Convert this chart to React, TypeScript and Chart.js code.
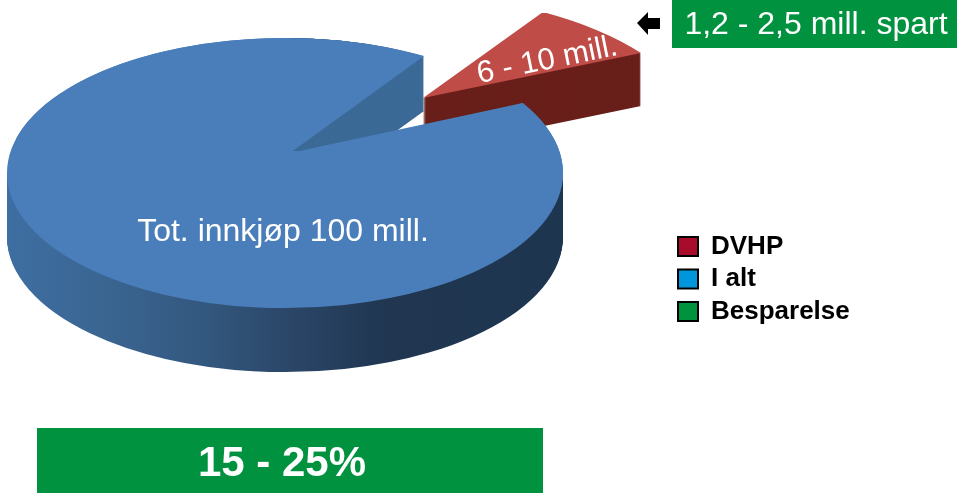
import { useEffect, useRef } from "react";
import { Chart, registerables } from "chart.js";

Chart.register(...registerables);

const categories = ["DVHP", "I alt", "Besparelse"];
const values = [8, 92, 0];
const legendColors = ["#A90B2B", "#0096DC", "#00923F"];
const sliceLabels = ["6 - 10 mill.", "Tot. innkjøp 100 mill."];
const savingLabel = "1,2 - 2,5 mill. spart";
const shareLabel = "15 - 25%";

const FONT = '"Liberation Sans", Arial, sans-serif';
const GREEN = "#00923F";
const CY = 173;
const SQUASH = 0.486;
const DEPTH = 64;
const WALL_DEPTH = 55;
const RED_DEPTH = 53;
const RED_APEX = [423, 98];
const RED_P1 = [543, 12];
const RED_P2 = [641, 53];
const BLUE_APEX = [290, 153];

function paint(arc: any, ctx: CanvasRenderingContext2D, color: any) {
  const saved = arc.options;
  arc.options = {
    backgroundColor: color,
    borderColor: color,
    borderWidth: 0,
    borderAlign: "center",
    borderRadius: 0,
    borderDash: [],
    offset: 0,
    spacing: 0,
    circular: true,
  };
  arc.draw(ctx);
  arc.options = saved;
}

// Linear map that sends the arc's rim ends (angles a1, a2) to two picture vectors
function solve(R: number, a1: number, a2: number, t1: number[], t2: number[]) {
  const px1 = Math.cos(a1) * R, py1 = Math.sin(a1) * R;
  const px2 = Math.cos(a2) * R, py2 = Math.sin(a2) * R;
  const D = px1 * py2 - py1 * px2;
  return [
    (t1[0] * py2 - py1 * t2[0]) / D,
    (t1[1] * py2 - py1 * t2[1]) / D,
    (px1 * t2[0] - t1[0] * px2) / D,
    (px1 * t2[1] - t1[1] * px2) / D,
  ];
}

const pie3d = {
  id: "pie3d",
  beforeDatasetsDraw(chart: any) {
    const ctx: CanvasRenderingContext2D = chart.ctx;
    const [red, blue] = chart.getDatasetMeta(0).data;

    // Exploded red slice
    const m = solve(
      red.outerRadius,
      red.startAngle,
      red.endAngle,
      [RED_P1[0] - RED_APEX[0], RED_P1[1] - RED_APEX[1]],
      [RED_P2[0] - RED_APEX[0], RED_P2[1] - RED_APEX[1]]
    );
    const place = (dy: number) => {
      ctx.translate(RED_APEX[0], RED_APEX[1] + dy);
      ctx.transform(m[0], m[1], m[2], m[3], 0, 0);
      ctx.translate(-red.x, -red.y);
    };
    for (let t = RED_DEPTH; t >= 1; t--) {
      ctx.save();
      place(t);
      paint(red, ctx, "#691F1A");
      ctx.restore();
    }
    ctx.save();
    place(0);
    paint(red, ctx, "#BF4C47");
    ctx.restore();

    // Blue body: outer wall
    const R = blue.outerRadius;
    const grad = ctx.createLinearGradient(8, 0, 563, 0);
    grad.addColorStop(0, "#3E6EA2");
    grad.addColorStop(0.18, "#3A6591");
    grad.addColorStop(0.35, "#33587F");
    grad.addColorStop(0.5, "#2B4769");
    grad.addColorStop(0.68, "#203651");
    grad.addColorStop(1, "#1E3550");
    const placeBlue = (dy: number) => {
      ctx.translate(blue.x, CY + dy);
      ctx.scale(1, SQUASH);
      ctx.translate(-blue.x, -blue.y);
    };
    ctx.save();
    ctx.beginPath();
    ctx.rect(0, CY, 963, 493);
    ctx.clip();
    for (let t = DEPTH; t >= 1; t--) {
      ctx.save();
      placeBlue(t);
      paint(blue, ctx, grad);
      ctx.restore();
    }
    ctx.restore();
    ctx.save();
    placeBlue(0);
    paint(blue, ctx, "#4A7EBA");
    ctx.restore();

    // Same slice again, with its tip where the perspective puts it: rim ends stay on the ellipse
    const rimX = (a: number) => blue.x + Math.cos(a) * R;
    const rimY = (a: number) => CY + Math.sin(a) * R * SQUASH;
    const a1 = red.startAngle;
    const a2 = red.endAngle;
    const n = solve(
      R,
      a1,
      a2,
      [rimX(a1) - BLUE_APEX[0], rimY(a1) - BLUE_APEX[1]],
      [rimX(a2) - BLUE_APEX[0], rimY(a2) - BLUE_APEX[1]]
    );
    const placeTip = (dy: number) => {
      ctx.translate(BLUE_APEX[0], BLUE_APEX[1] + dy);
      ctx.transform(n[0], n[1], n[2], n[3], 0, 0);
      ctx.translate(-blue.x, -blue.y);
    };
    ctx.save();
    ctx.beginPath();
    ctx.ellipse(blue.x, CY, R, R * SQUASH, 0, 0, Math.PI * 2);
    ctx.clip();
    ctx.beginPath();
    ctx.rect(BLUE_APEX[0], 0, rimX(a1) - BLUE_APEX[0], rimY(a1) + WALL_DEPTH + 40);
    ctx.clip();
    for (let t = WALL_DEPTH; t >= 1; t--) {
      ctx.save();
      placeTip(t);
      paint(blue, ctx, "#3C6A97");
      ctx.restore();
    }
    ctx.restore();
    ctx.save();
    ctx.beginPath();
    ctx.ellipse(blue.x, CY, R, R * SQUASH, 0, 0, Math.PI * 2);
    ctx.clip();
    placeTip(0);
    paint(blue, ctx, "#4A7EBA");
    ctx.restore();
    return false;
  },
  afterLayout(chart: any) {
    const lg = chart.legend;
    const h = lg.height;
    lg.left = 671.5;
    lg.right = 671.5 + lg.width;
    lg.top = 227;
    lg.bottom = 227 + h;
    lg.adjustHitBoxes();
  },
  afterDraw(chart: any) {
    const ctx: CanvasRenderingContext2D = chart.ctx;
    ctx.save();
    ctx.textBaseline = "alphabetic";
    ctx.fillStyle = "#FFFFFF";
    ctx.textAlign = "center";
    ctx.font = `32px ${FONT}`;
    ctx.fillText(sliceLabels[1], 283, 241);

    ctx.save();
    ctx.translate(549, 69);
    ctx.rotate((-11.5 * Math.PI) / 180);
    ctx.font = `31px ${FONT}`;
    ctx.fillText(sliceLabels[0], 0, 0);
    ctx.restore();

    // arrow
    ctx.fillStyle = "#000000";
    ctx.beginPath();
    ctx.moveTo(637, 23);
    ctx.lineTo(648, 12);
    ctx.lineTo(648, 18);
    ctx.lineTo(660, 18);
    ctx.lineTo(660, 29);
    ctx.lineTo(648, 29);
    ctx.lineTo(648, 35);
    ctx.closePath();
    ctx.fill();

    // banners
    ctx.fillStyle = GREEN;
    ctx.fillRect(672, 0, 285, 48);
    ctx.fillRect(37, 428, 506, 65);
    ctx.fillStyle = "#FFFFFF";
    ctx.font = `32px ${FONT}`;
    ctx.fillText(savingLabel, 816, 34);
    ctx.font = `bold 42px ${FONT}`;
    ctx.fillText(shareLabel, 282, 476);
    ctx.restore();
  },
};

export default function App() {
  const ref = useRef<HTMLCanvasElement>(null);
  useEffect(() => {
    const chart = new Chart(ref.current!, {
      type: "pie",
      data: {
        labels: categories,
        datasets: [{ data: values, backgroundColor: ["#BF4C47", "#4A7EBA", GREEN], borderWidth: 0 }],
      },
      options: {
        animation: false,
        responsive: false,
        rotation: 30,
        radius: 278,
        layout: { padding: { right: 393, bottom: 493 - 2 * CY } },
        plugins: {
          tooltip: { enabled: false },
          legend: {
            position: "chartArea",
            align: "start",
            labels: {
              boxWidth: 20,
              boxHeight: 19,
              padding: 6.5,
              color: "#000000",
              font: { family: FONT, size: 26, weight: "bold" },
              generateLabels: () =>
                categories.map((text, i) => ({
                  text,
                  fillStyle: legendColors[i],
                  strokeStyle: "#000000",
                  lineWidth: 2,
                  hidden: false,
                  index: i,
                })),
            },
          },
        },
      } as any,
      plugins: [pie3d as any],
    });
    return () => chart.destroy();
  }, []);
  return (
    <div style={{ position: "fixed", left: 0, top: 0, width: 963, height: 493, background: "#FFFFFF" }}>
      <canvas ref={ref} width={963} height={493} style={{ display: "block" }} />
    </div>
  );
}
